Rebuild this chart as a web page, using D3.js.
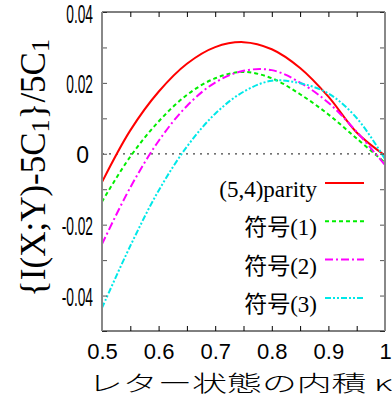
<!DOCTYPE html>
<html>
<head>
<meta charset="utf-8">
<script src="https://cdn.jsdelivr.net/npm/d3@7/dist/d3.min.js"></script>
<style>
  body { margin: 0; background: #fff; }
  svg { display: block; }
</style>
</head>
<body>
<div id="chart"></div>
<script>
// données
const kappa = [0.5, 0.55, 0.6, 0.65, 0.7, 0.75, 0.8, 0.85, 0.9, 0.95, 1.0];
const parity = [-0.0080, 0.0066, 0.0175, 0.0254, 0.0301, 0.0315, 0.0295, 0.0242, 0.0161, 0.0060, -0.0005];
const code1 = [-0.0135, -0.0008, 0.0091, 0.0166, 0.0213, 0.0231, 0.0213, 0.0168, 0.0111, 0.0043, -0.0025];
const code2 = [-0.0255, -0.0095, 0.0036, 0.0135, 0.0201, 0.0234, 0.0236, 0.0201, 0.0144, 0.0062, -0.0032];
const code3 = [-0.0435, -0.0260, -0.0104, 0.0020, 0.0113, 0.0175, 0.0206, 0.0199, 0.0170, 0.0101, -0.0015];

const seriesNames = ["(5,4)parity", "符号(1)", "符号(2)", "符号(3)"];
const seriesValues = [parity, code1, code2, code3];
const seriesColors = ["#ff0000", "#00ee00", "#ff00ff", "#00e8e8"];
const seriesDash = ["none", "4,3", "8,3,2,3", "6,2,2,2,2,2"];

const xTicks = [0.5, 0.55, 0.6, 0.65, 0.7, 0.75, 0.8, 0.85, 0.9, 0.95, 1.0];
const xTickLabels = ["0.5", "", "0.6", "", "0.7", "", "0.8", "", "0.9", "", "1"];
const yTicks = [0.04, 0.03, 0.02, 0.01, 0, -0.01, -0.02, -0.03, -0.04, -0.05];
const yTickLabels = ["0.04", "", "0.02", "", "0", "", "-0.02", "", "-0.04", ""];

const width = 392, height = 396;
const plotLeft = 102, plotRight = 385, plotTop = 12, plotBottom = 331;

const svg = d3.select("#chart").append("svg")
    .attr("width", width)
    .attr("height", height);

const x = d3.scaleLinear().domain([0.5, 1]).range([plotLeft, plotRight]);
const y = d3.scaleLinear().domain([-0.05, 0.04]).range([plotBottom, plotTop]);

svg.append("clipPath").attr("id", "clip")
  .append("rect")
    .attr("x", plotLeft).attr("y", plotTop)
    .attr("width", plotRight - plotLeft).attr("height", plotBottom - plotTop);

// ligne du zéro
svg.append("line")
    .attr("x1", plotLeft).attr("x2", plotRight)
    .attr("y1", y(0)).attr("y2", y(0))
    .attr("stroke", "#444")
    .attr("stroke-width", 1.2)
    .attr("stroke-dasharray", "2,5");

// courbes
const line = d3.line()
    .x((d, i) => x(kappa[i]))
    .y(d => y(d))
    .curve(d3.curveCatmullRom.alpha(0.5));

seriesValues.forEach((vals, i) => {
    svg.append("path")
        .attr("clip-path", "url(#clip)")
        .attr("d", line(vals))
        .attr("fill", "none")
        .attr("stroke", seriesColors[i])
        .attr("stroke-width", 2)
        .attr("stroke-dasharray", seriesDash[i]);
});

// axes
const xAxis = svg.append("g")
    .attr("transform", `translate(0,${plotBottom})`)
    .call(d3.axisBottom(x).tickValues(xTicks)
        .tickFormat((d, i) => xTickLabels[i])
        .tickSizeInner(-5).tickSizeOuter(0).tickPadding(12));
xAxis.select(".domain").remove();
xAxis.selectAll("line").attr("stroke", "#000");
xAxis.selectAll("text")
    .attr("fill", "#000")
    .style("font-family", "'Liberation Sans', Arial, sans-serif")
    .style("font-size", "22px");

const xTop = svg.append("g")
    .attr("transform", `translate(0,${plotTop})`)
    .call(d3.axisTop(x).tickValues(xTicks).tickFormat("")
        .tickSizeInner(-5).tickSizeOuter(0));
xTop.select(".domain").remove();
xTop.selectAll("line").attr("stroke", "#000");

const yAxis = svg.append("g")
    .attr("transform", `translate(${plotLeft},0)`)
    .call(d3.axisLeft(y).tickValues(yTicks)
        .tickFormat((d, i) => yTickLabels[i])
        .tickSizeInner(-5).tickSizeOuter(0).tickPadding(9));
yAxis.select(".domain").remove();
yAxis.selectAll("line").attr("stroke", "#555");
yAxis.selectAll("text")
    .attr("fill", "#000")
    .attr("dy", "0.4em")
    .style("font-family", "'Liberation Sans', Arial, sans-serif")
    .style("font-size", "25px")
    .each(function(d, i) {
        const t = d3.select(this);
        if (yTickLabels[i] === "0") {
            t.attr("x", -13).style("font-size", "23px");
        } else if (yTickLabels[i] !== "") {
            t.attr("textLength", this.getComputedTextLength() * 0.55)
             .attr("lengthAdjust", "spacingAndGlyphs");
        }
    });

const yRight = svg.append("g")
    .attr("transform", `translate(${plotRight},0)`)
    .call(d3.axisRight(y).tickValues(yTicks).tickFormat("")
        .tickSizeInner(-5).tickSizeOuter(0));
yRight.select(".domain").remove();
yRight.selectAll("line").attr("stroke", "#555");

// cadre
svg.append("line").attr("x1", plotLeft).attr("x2", plotRight).attr("y1", plotTop).attr("y2", plotTop)
    .attr("stroke", "#000").attr("stroke-width", 1);
svg.append("line").attr("x1", plotLeft).attr("x2", plotRight).attr("y1", plotBottom).attr("y2", plotBottom)
    .attr("stroke", "#000").attr("stroke-width", 1);
svg.append("line").attr("x1", plotLeft).attr("x2", plotLeft).attr("y1", plotTop).attr("y2", plotBottom)
    .attr("stroke", "#888").attr("stroke-width", 2);
svg.append("line").attr("x1", plotRight).attr("x2", plotRight).attr("y1", plotTop).attr("y2", plotBottom)
    .attr("stroke", "#888").attr("stroke-width", 2);

// titres des axes
svg.append("text")
    .attr("x", 240).attr("y", 391)
    .attr("text-anchor", "middle")
    .attr("textLength", 304)
    .attr("lengthAdjust", "spacingAndGlyphs")
    .style("font-family", "'Noto Sans CJK JP', sans-serif")
    .style("font-size", "22px")
    .style("font-weight", "300")
    .text("レター状態の内積 κ");

const yTitle = svg.append("text")
    .attr("transform", "translate(45,168) rotate(-90)")
    .attr("text-anchor", "middle")
    .style("font-family", "'Liberation Serif', 'Times New Roman', serif")
    .style("font-size", "35px");
yTitle.append("tspan").text("{I(X;Y)-5C");
yTitle.append("tspan").attr("dy", 4).style("font-size", "26px").text("1");
yTitle.append("tspan").attr("dy", -4).text("}/5C");
yTitle.append("tspan").attr("dy", 4).style("font-size", "26px").text("1");

// légende
const legend = svg.append("g");
seriesNames.forEach((name, i) => {
    const ly = 183 + i * 38.3;
    legend.append("text")
        .attr("x", 317).attr("y", ly + 14)
        .attr("text-anchor", "end")
        .style("font-family", "'Liberation Serif', 'Times New Roman', 'Noto Sans CJK JP', serif")
        .style("font-size", "23px")
        .text(name);
    legend.append("line")
        .attr("x1", 325).attr("x2", 364)
        .attr("y1", ly).attr("y2", ly)
        .attr("stroke", seriesColors[i])
        .attr("stroke-width", 2)
        .attr("stroke-dasharray", seriesDash[i]);
});
</script>
</body>
</html>
